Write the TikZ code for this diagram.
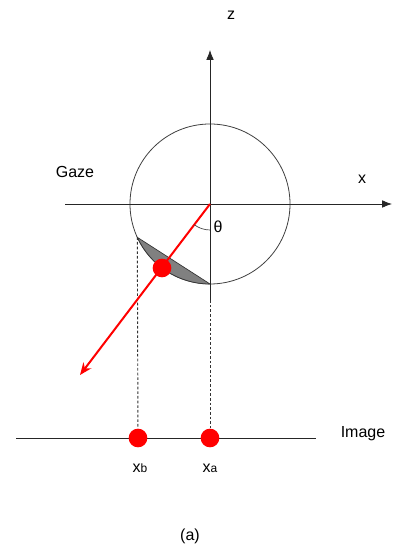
\documentclass[tikz,border=0pt]{standalone}
\usepackage{fontspec}
\setmainfont{Liberation Sans}
\usetikzlibrary{arrows.meta,positioning,calc}

\begin{document}
\begin{tikzpicture}[x=0.75pt,y=0.75pt]
\tikzset{
  axisline/.style={draw=black!85,line width=0.6pt},
  axisarrow/.style={axisline,-{Latex[length=2.6mm,width=2.0mm]}},
  guide/.style={draw=black!80,line width=0.7pt,dash pattern=on 2pt off 1.5pt},
  gazearrow/.style={draw=red,line width=1.5pt,-{Stealth[length=3.2mm,width=2.6mm]}},
  reddot/.style={circle,fill=red,inner sep=0pt,minimum size=14pt},
  eyeball/.style={circle,draw=black!75,line width=0.6pt,minimum size=120pt,inner sep=0pt},
  lbl/.style={font=\fontsize{12}{14}\selectfont,inner sep=1pt}
}
\useasboundingbox (0,0) rectangle (393,548);
% axes and eye
\coordinate (n_o) at (210,344);
\node[eyeball] (n_eye) at (n_o) {};
\coordinate (n_xl) at (65,344);
\coordinate (n_xr) at (392,344);
\coordinate (n_zt) at (210,498);
\coordinate (n_zs) at (210,248);
\coordinate (n_A) at (137.3,310.7);
\coordinate (n_B) at (210,264);
\coordinate (n_tip) at (80,173);
\fill[black!50,draw=black!80,line width=0.5pt] (n_A) arc[start angle=204.6,end angle=270,radius=80] -- cycle;
\draw[axisarrow] (n_xl) -- (n_xr);
\draw[axisarrow] (n_zs) -- (n_zt);
% image plane
\coordinate (n_il) at (16,110);
\coordinate (n_ir) at (316,110);
\draw[axisline] (n_il) -- (n_ir);
\node[reddot] (n_xb) at (138,110) {};
\node[reddot] (n_xa) at (210,110) {};
\draw[guide] (n_A) -- (n_xb);
\draw[guide] (n_zs) -- (n_xa);
% gaze ray
\draw[gazearrow] (n_o) -- (n_tip);
\node[reddot] (n_pupil) at (162,280) {};
\draw[black!75,line width=0.5pt] ($(n_o)+(270:26)$) arc[start angle=270,end angle=232.8,radius=26];
% labels
\node[lbl] (l_z) at (231,533) {z};
\node[lbl] (l_x) at (362,369) {x};
\node[lbl] (l_gaze) at (75,376) {Gaze};
\node[lbl] (l_theta) at (218,321) {θ};
\node[lbl] (l_image) at (363,114) {Image};
\node[lbl] (l_xb) at (140,80) {x{\fontsize{9}{10}\selectfont b}};
\node[lbl] (l_xa) at (210,80) {x{\fontsize{9}{10}\selectfont a}};
\node[lbl] (l_a) at (190,12) {(a)};
\end{tikzpicture}
\end{document}
